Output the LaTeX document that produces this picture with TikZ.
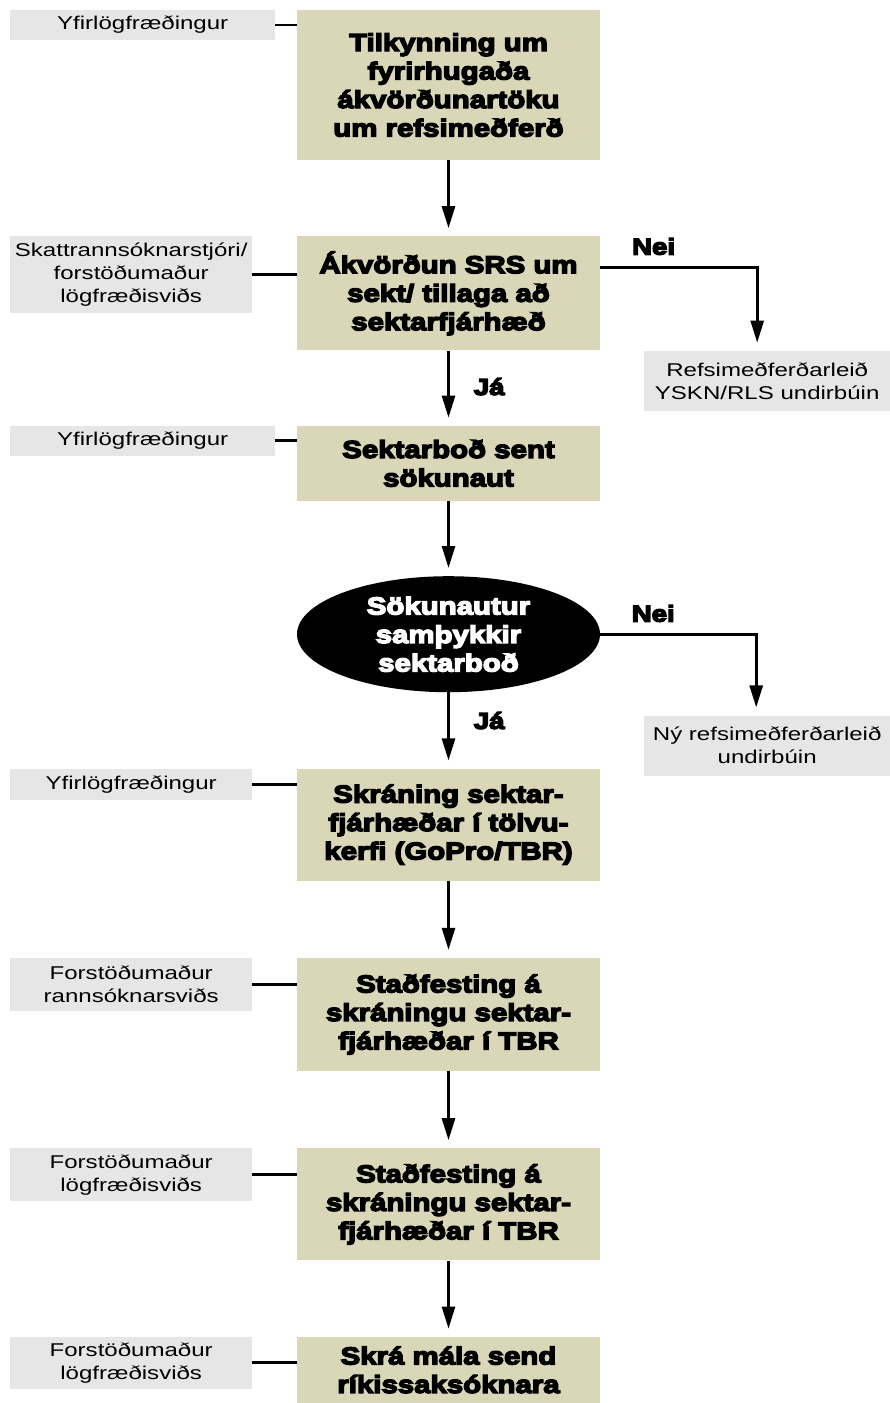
\documentclass[tikz,border=0pt]{standalone}
\usepackage{fontspec}
\setmainfont{Liberation Sans}[FakeStretch=1.3]
\newfontfamily\heavyfont{Liberation Sans Bold}[FakeStretch=1.2]
\newcommand{\heavy}{\heavyfont\special{pdf:literal direct 2 Tr 1.4 w}}
\newcommand{\plain}{\special{pdf:literal direct 0 Tr}}
\usepackage{xcolor}
\usetikzlibrary{positioning,arrows.meta,shapes.geometric}
\definecolor{tanfill}{RGB}{218,215,185}
\definecolor{greyfill}{RGB}{230,230,230}

\begin{document}
\begin{tikzpicture}[
  x=1pt, y=1pt,
  node distance=76pt,
  stepbox/.style={fill=tanfill,align=center,minimum width=303pt,inner sep=0pt,
    font=\heavy\fontsize{24.5}{28.5}\selectfont},
  decide/.style={ellipse,fill=black,text=white,align=center,minimum width=303pt,
    minimum height=116pt,inner sep=0pt,font=\heavy\fontsize{24.5}{28.5}\selectfont},
  role/.style={fill=greyfill,align=center,anchor=north west,inner sep=0pt,
    font=\plain\fontsize{18.5}{23}\selectfont},
  alt/.style={fill=greyfill,align=center,anchor=north west,inner sep=0pt,
    minimum width=246pt,minimum height=60pt,font=\plain\fontsize{18.5}{23}\selectfont},
  flow/.style={line width=2.7pt,-{Triangle[length=22pt,width=13pt]},shorten >=8pt},
  link/.style={line width=2.9pt},
  lbl/.style={inner sep=0pt,font=\heavy\fontsize{23}{26}\selectfont},
]
  \useasboundingbox (0,0) rectangle (890,-1403);
  \coordinate (lm) at (10,0);
  \coordinate (rm) at (644,0);

  % main column
  \node[stepbox,minimum height=150pt] (notice) at (448.5,-85) {Tilkynning um\\fyrirhugaða\\ákvörðunartöku\\um refsimeðferð};
  \node[stepbox,minimum height=114pt,below=of notice] (decision) {Ákvörðun SRS um\\sekt/ tillaga að\\sektarfjárhæð};
  \node[stepbox,minimum height=75pt,below=75pt of decision] (offer) {Sektarboð sent\\sökunaut};
  \node[decide,below=75pt of offer] (accept) {Sökunautur\\samþykkir\\sektarboð};
  \node[stepbox,minimum height=112pt,below=of accept] (record) {Skráning sektar-\\fjárhæðar í tölvu-\\kerfi (GoPro/TBR)};
  \node[stepbox,minimum height=113pt,below=77pt of record] (confirmA) {Staðfesting á\\skráningu sektar-\\fjárhæðar í TBR};
  \node[stepbox,minimum height=112pt,below=77pt of confirmA] (confirmB) {Staðfesting á\\skráningu sektar-\\fjárhæðar í TBR};
  \node[stepbox,minimum height=66pt,below=76pt of confirmB] (send) {Skrá mála send\\ríkissaksóknara};

  % who is responsible
  \node[role,minimum width=265pt,minimum height=30pt] (r1) at (lm |- notice.north) {Yfirlögfræðingur};
  \node[role,minimum width=242pt,minimum height=77pt] (r2) at (lm |- decision.north) {Skattrannsóknarstjóri/\\forstöðumaður\\lögfræðisviðs};
  \node[role,minimum width=265pt,minimum height=30pt] (r3) at (lm |- offer.north) {Yfirlögfræðingur};
  \node[role,minimum width=242pt,minimum height=31pt] (r4) at (lm |- record.north) {Yfirlögfræðingur};
  \node[role,minimum width=242pt,minimum height=53pt] (r5) at (lm |- confirmA.north) {Forstöðumaður\\rannsóknarsviðs};
  \node[role,minimum width=242pt,minimum height=53pt] (r6) at (lm |- confirmB.north) {Forstöðumaður\\lögfræðisviðs};
  \node[role,minimum width=242pt,minimum height=52pt] (r7) at (lm |- send.north) {Forstöðumaður\\lögfræðisviðs};

  % other routes
  \path (accept.south -| rm) ++(0,-23) coordinate (r2top);
  \node[alt] (route1) at (rm |- decision.south) {Refsimeðferðarleið\\YSKN/RLS undirbúin};
  \node[alt] (route2) at (r2top) {Ný refsimeðferðarleið\\undirbúin};

  \foreach \r/\b in {r1/notice,r2/decision,r3/offer,r4/record,r5/confirmA,r6/confirmB,r7/send}
    \draw[link] (\r.east) -- (\r.east -| \b.west);

  \draw[flow] (notice) -- (decision);
  \draw[flow] (decision) -- node[lbl,right=24pt,pos=0.48]{Já} (offer);
  \draw[flow] (offer) -- (accept);
  \draw[flow] (accept) -- node[lbl,right=24pt,pos=0.37]{Já} (record);
  \draw[flow] (record) -- (confirmA);
  \draw[flow] (confirmA) -- (confirmB);
  \draw[flow] (confirmB) -- (send);

  \draw[flow] ([yshift=-31pt]decision.north east) -| node[lbl,above=11pt,pos=0.17]{Nei} ([xshift=-10pt]route1.north);
  \draw[flow] (accept.east) -| node[lbl,above=11pt,pos=0.17]{Nei} ([xshift=-11pt]route2.north);
\end{tikzpicture}
\end{document}
